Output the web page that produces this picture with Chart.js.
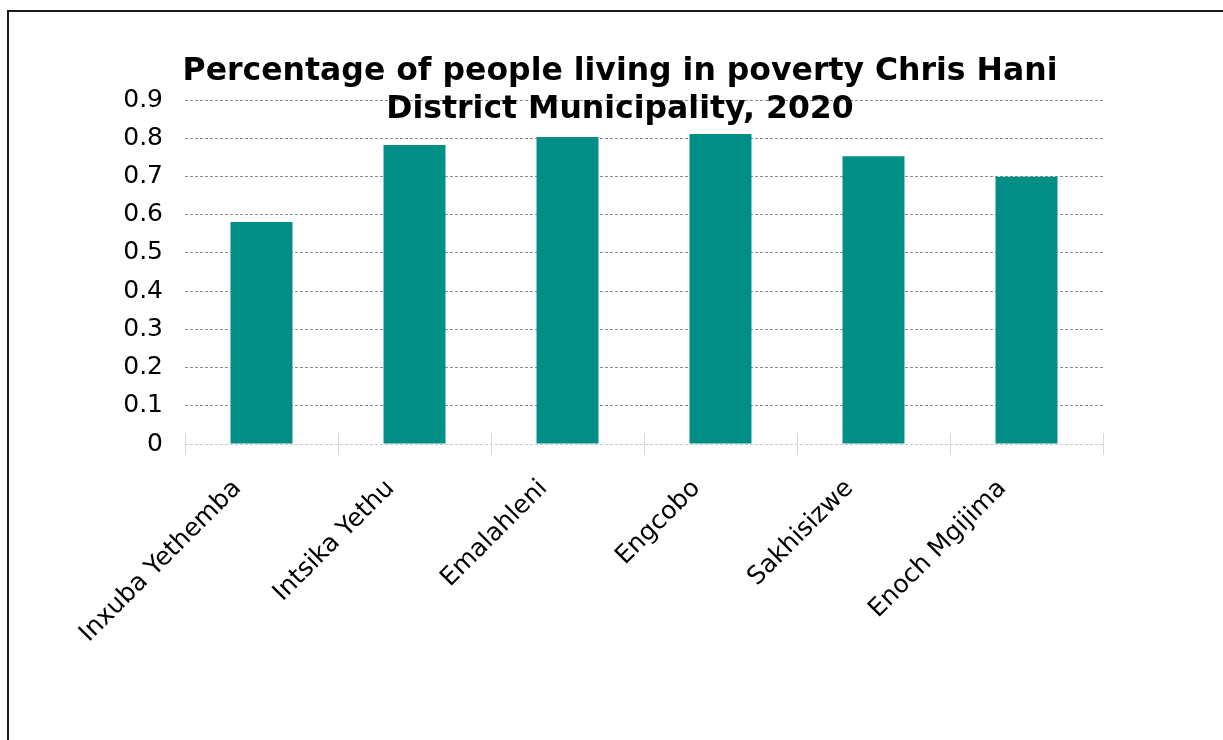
<!DOCTYPE html>
<html>
<head>
<meta charset="utf-8">
<script src="https://cdn.jsdelivr.net/npm/chart.js@4/dist/chart.umd.min.js"></script>
<style>
  html, body { margin: 0; padding: 0; background: #ffffff; }
  #wrap { position: relative; width: 1223px; height: 740px; overflow: hidden; }
  #frame { position: absolute; left: 7px; top: 10px; width: 1300px; height: 800px;
           border-left: 2px solid #1a1a1a; border-top: 2px solid #1a1a1a; }
  canvas { position: absolute; left: 0; top: 0; }
</style>
</head>
<body>
<div id="wrap">
  <div id="frame"></div>
  <canvas id="chart" width="1223" height="740"></canvas>
</div>
<script>
// Share of residents living in poverty, by local municipality
const municipalities = ["Inxuba Yethemba", "Intsika Yethu", "Emalahleni", "Engcobo", "Sakhisizwe", "Enoch Mgijima"];
const povertyShare = [0.581, 0.782, 0.803, 0.811, 0.753, 0.699];
const yTickValues = [0, 0.1, 0.2, 0.3, 0.4, 0.5, 0.6, 0.7, 0.8, 0.9];
const titleLines = ["Percentage of people living in poverty Chris Hani", "District Municipality, 2020"];

const FONT = "'DejaVu Sans', Verdana, sans-serif";

// Title drawn over the plot, plus short category separators that straddle the baseline
const overlay = {
  id: "overlay",
  afterDraw(chart) {
    const ctx = chart.ctx;
    const x = chart.scales.x, y = chart.scales.y;
    const base = y.getPixelForValue(0);
    const step = (x.right - x.left) / municipalities.length;
    ctx.save();
    ctx.strokeStyle = "#d9d9d9";
    ctx.lineWidth = 1;
    for (let i = 0; i <= municipalities.length; i++) {
      const px = Math.round(x.left + i * step) + 0.5;
      ctx.beginPath();
      ctx.moveTo(px, base - 11);
      ctx.lineTo(px, base + 11);
      ctx.stroke();
    }
    ctx.fillStyle = "#000000";
    ctx.font = "bold 31.5px " + FONT;
    ctx.textAlign = "center";
    ctx.textBaseline = "alphabetic";
    ctx.fillText(titleLines[0], 620, 80);
    ctx.fillText(titleLines[1], 620, 118);
    ctx.restore();
  }
};

new Chart(document.getElementById("chart"), {
  type: "bar",
  data: {
    labels: municipalities,
    datasets: [{
      data: povertyShare,
      backgroundColor: "#008E86",
      borderWidth: 0,
      categoryPercentage: 1.0,
      barPercentage: 0.405
    }]
  },
  options: {
    responsive: false,
    animation: false,
    layout: { padding: { left: 0, right: 120, top: 100, bottom: 0 } },
    plugins: { legend: { display: false }, title: { display: false }, tooltip: { enabled: false } },
    scales: {
      x: {
        grid: { display: false },
        border: { display: false },
        ticks: {
          color: "#000000",
          font: { family: FONT, size: 25 },
          minRotation: 45,
          maxRotation: 45,
          padding: 22,
          labelOffset: -24
        },
        afterFit(scale) { scale.height = 296; }
      },
      y: {
        min: 0,
        max: 0.9,
        afterBuildTicks(scale) { scale.ticks = yTickValues.map(v => ({ value: v })); },
        border: { display: false, dash: [3, 2] },
        grid: {
          drawTicks: false,
          color: ctx => (ctx.tick && ctx.tick.value === 0) ? "#c8c8c8" : "#8c8c8c",
          lineWidth: 1
        },
        ticks: {
          color: "#000000",
          font: { family: FONT, size: 25 },
          padding: 22,
          callback: v => String(Math.round(v * 10) / 10)
        },
        afterFit(scale) { scale.width = 185; }
      }
    }
  },
  plugins: [overlay]
});
</script>
</body>
</html>
